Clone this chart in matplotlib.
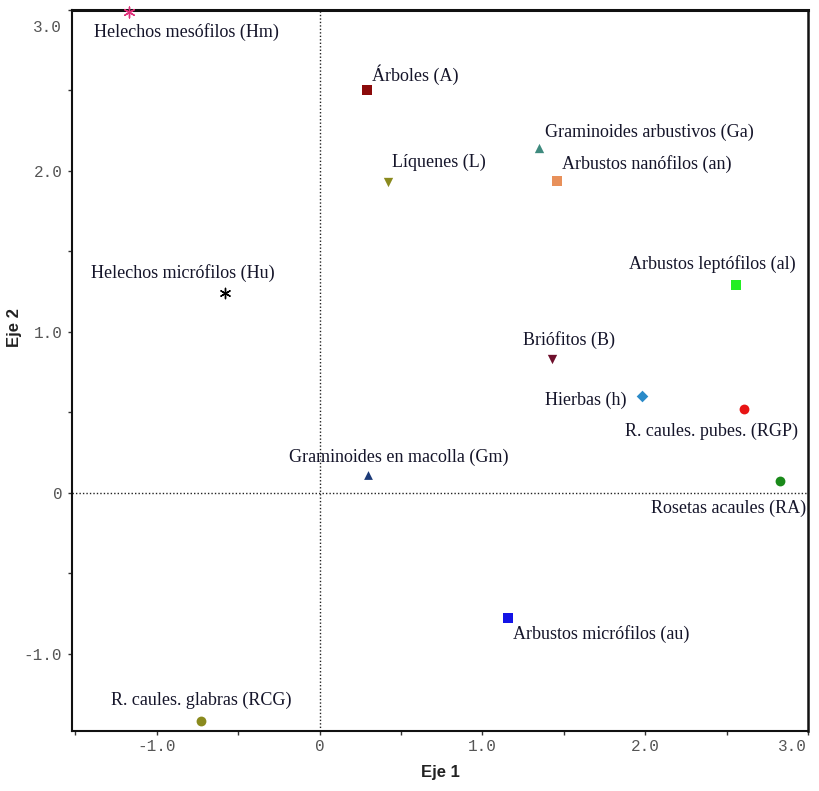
import matplotlib
matplotlib.use("Agg")
import matplotlib.pyplot as plt
from matplotlib.ticker import FixedLocator
import matplotlib.transforms as mtransforms

labels = ["Helechos mesófilos (Hm)", "Árboles (A)", "Graminoides arbustivos (Ga)",
          "Líquenes (L)", "Arbustos nanófilos (an)", "Helechos micrófilos (Hu)",
          "Arbustos leptófilos (al)", "Briófitos (B)", "Hierbas (h)",
          "R. caules. pubes. (RGP)", "Graminoides en macolla (Gm)",
          "Rosetas acaules (RA)", "Arbustos micrófilos (au)", "R. caules. glabras (RCG)"]
eje1 = [-1.17, 0.29, 1.35, 0.42, 1.46, -0.58, 2.56, 1.43, 1.98, 2.61, 0.30, 2.83, 1.16, -0.73]
eje2 = [2.99, 2.50, 2.14, 1.93, 1.94, 1.24, 1.29, 0.83, 0.60, 0.52, 0.11, 0.075, -0.78, -1.42]
tick_vals = [-1.0, 0, 1.0, 2.0, 3.0]
tick_labels = ["-1.0", "0", "1.0", "2.0", "3.0"]

markers = [(6, 2, 0), "s", "^", "v", "s", (6, 2, 0), "s", "v", "D", "o", "^", "o", "s", "o"]
colors = ["#e0307a", "#8b0a0a", "#3f8a7e", "#8a8a1e", "#e8905a", "#000000", "#22ee22",
          "#6e0f2c", "#2a8ac8", "#e81414", "#1c3a78", "#1a8a1a", "#1414e6", "#8a8a1e"]
sizes = [60, 50, 45, 45, 50, 55, 50, 45, 35, 50, 40, 50, 50, 50]
# label offsets in pixels (dx, dy) and horizontal alignment
offsets = [(-35, -20), (5, 16), (6, 16), (4, 20), (5, 17), (-134, 20), (-107, 21),
           (-29, 19), (-15, -4), (54, -22), (-79, 18), (26, -28), (5, -16), (-90, 21)]
has = ["left", "left", "left", "left", "left", "left", "left", "left", "right",
       "right", "left", "right", "left", "left"]

fig = plt.figure(figsize=(8.19, 7.91), dpi=100)
ax = fig.add_axes([72/819, 60/791, (808-72)/819, (781-60)/791])
ax.set_xlim(-1.52, 3.0)
ax.set_ylim(-1.48, 3.0)

ax.axvline(0, color="#222222", lw=1.0, ls=(0, (1, 1.5)), zorder=1)
ax.axhline(0, color="#222222", lw=1.0, ls=(0, (1, 1.5)), zorder=1)

for x, y, m, c, s, lab, (dx, dy), ha in zip(eje1, eje2, markers, colors, sizes, labels, offsets, has):
    lw = 1.0 if isinstance(m, tuple) else 0
    ax.scatter([x], [y], marker=m, s=s, color=c, linewidths=lw, zorder=3, clip_on=False)
    ax.annotate(lab, (x, y), xytext=(dx * 0.72, dy * 0.72), textcoords="offset points",
                ha=ha, va="center", fontsize=13, family="Liberation Serif", color="#15152a")

ax.xaxis.set_major_locator(FixedLocator(tick_vals))
ax.yaxis.set_major_locator(FixedLocator(tick_vals))
ax.xaxis.set_minor_locator(FixedLocator([-1.5, -0.5, 0.5, 1.5, 2.5]))
ax.yaxis.set_minor_locator(FixedLocator([-0.5, 0.5, 1.5, 2.5]))
ax.set_xticklabels(tick_labels)
ax.set_yticklabels(tick_labels)
ax.tick_params(which="both", direction="out", length=3, width=1, color="#333333",
               labelsize=11.5, labelcolor="#555555")
ax.tick_params(axis="x", pad=3)
ax.tick_params(axis="y", pad=4)
for t in ax.get_xticklabels() + ax.get_yticklabels():
    t.set_family("Liberation Mono")

# shift edge labels inward as in the reference
xl = ax.get_xticklabels()[-1]
xl.set_transform(xl.get_transform() + mtransforms.ScaledTranslation(-16/100, 0, fig.dpi_scale_trans))
yl = ax.get_yticklabels()[-1]
yl.set_transform(yl.get_transform() + mtransforms.ScaledTranslation(0, -16/100, fig.dpi_scale_trans))

for sp in ["left", "bottom"]:
    ax.spines[sp].set_linewidth(1.5)
ax.spines["top"].set_linewidth(2.2)
ax.spines["right"].set_linewidth(1.8)
for sp in ax.spines.values():
    sp.set_color("#111111")

ax.set_xlabel("Eje 1", fontsize=12, fontweight="bold", family="Liberation Sans", color="#222222", labelpad=8)
ax.set_ylabel("Eje 2", fontsize=12, fontweight="bold", family="Liberation Sans", color="#222222", labelpad=2)
ax.yaxis.set_label_coords(-0.068, (791 - 328 - 60) / 721)

fig.savefig("out.png", dpi=100)
